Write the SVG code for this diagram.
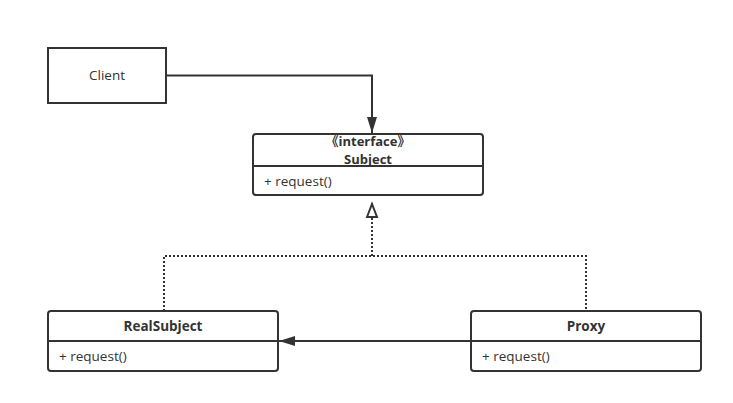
<svg xmlns="http://www.w3.org/2000/svg" width="733" height="403" viewBox="0 0 733 403">
<style>
.box{fill:#fff;stroke:#333;stroke-width:2}
.ln{fill:none;stroke:#333;stroke-width:2}
.dot{fill:none;stroke:#333;stroke-width:2;stroke-dasharray:2 2}
text{font-family:"Open Sans","Noto Sans","Noto Sans CJK SC",sans-serif;font-size:13.5px;fill:#333}
.b{font-weight:bold;text-anchor:middle}
.h{font-size:13px}
.cjk{font-family:"Noto Sans CJK SC",sans-serif}
</style>
<defs>
<marker id="filled" markerWidth="18" markerHeight="12" refX="16" refY="6" orient="auto" markerUnits="userSpaceOnUse">
<path d="M0,1 L16,6 L0,11 Z" fill="#333"/>
</marker>
<marker id="hollow" markerWidth="18" markerHeight="14" refX="15" refY="7" orient="auto" markerUnits="userSpaceOnUse">
<path d="M1,2 L14,7 L1,12 Z" fill="#fff" stroke="#333" stroke-width="2"/>
</marker>
</defs>
<g id="connectors">
<path class="ln" d="M166,75.5 H372 V133" marker-end="url(#filled)"/>
<path class="dot" d="M164,311 V256 H586 V311"/>
<path class="dot" d="M372,256 V203" marker-end="url(#hollow)"/>
<path class="ln" d="M471,341 H279" marker-end="url(#filled)"/>
</g>
<g id="client">
<rect class="box" x="48" y="48" width="118" height="55"/>
<text x="107" y="80" text-anchor="middle">Client</text>
</g>
<g id="subject">
<rect class="box" x="253" y="134" width="230" height="61" rx="3"/>
<line class="ln" x1="253" y1="166" x2="483" y2="166"/>
<text class="b h" x="368" y="146"><tspan class="cjk">《</tspan>interface<tspan class="cjk">》</tspan></text>
<text class="b h" x="368" y="163.5">Subject</text>
<text x="264" y="186">+ request()</text>
</g>
<g id="realsubject">
<rect class="box" x="48" y="311" width="230" height="60" rx="3"/>
<line class="ln" x1="48" y1="341" x2="278" y2="341"/>
<text class="b" x="163" y="331">RealSubject</text>
<text x="59" y="361">+ request()</text>
</g>
<g id="proxy">
<rect class="box" x="471" y="311" width="230" height="60" rx="3"/>
<line class="ln" x1="471" y1="341" x2="701" y2="341"/>
<text class="b" x="586" y="331">Proxy</text>
<text x="482" y="361">+ request()</text>
</g>
</svg>
